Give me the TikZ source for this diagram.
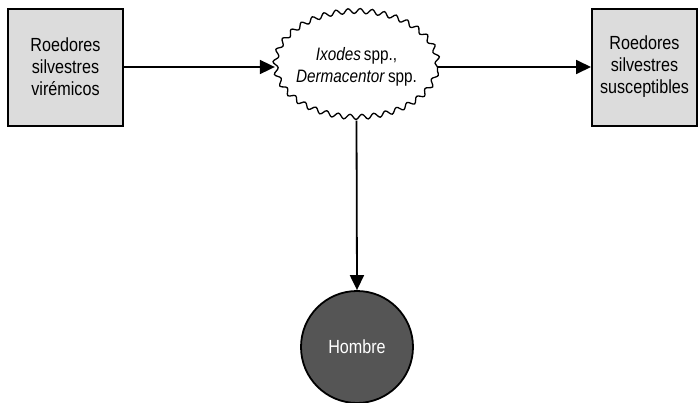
\documentclass[tikz,border=0pt]{standalone}
\usepackage{fontspec}
\setmainfont[FakeStretch=0.85]{Liberation Sans}
\usetikzlibrary{arrows.meta,shapes.geometric,decorations.pathmorphing}
\definecolor{boxgray}{RGB}{220,220,220}
\definecolor{mangray}{RGB}{85,85,85}
\tikzset{
    hostbox/.style={draw,line width=2pt,fill=boxgray,minimum width=115pt,minimum height=117pt,align=center,font=\fontsize{19}{22}\selectfont},
    vector/.style={draw,ellipse,line width=1.3pt,fill=white,minimum width=162pt,minimum height=106pt,inner sep=0pt,
        decorate,decoration={snake,segment length=12pt,amplitude=2.5pt}},
    flow/.style={line width=1.8pt,-{Triangle[length=15pt,width=14pt]}}
}
\begin{document}
\begin{tikzpicture}[x=1pt,y=-1pt]
        \useasboundingbox (0,0) rectangle (698,402);

        \node[hostbox] (src) at (65.5,67) {Roedores\\silvestres\\virémicos};
        \node[hostbox,minimum width=105pt] (dst) at (644.5,67) {Roedores\\silvestres\\susceptibles};
        \node[vector] (tick) at (356.5,67) {};
        \node[align=center,font=\fontsize{18}{22}\selectfont] (ticktext) at (tick.center) {\textit{Ixodes}\,spp.,\\\textit{Dermacentor}\,spp.};
        \node[circle,draw,line width=1.8pt,fill=mangray,minimum size=112pt,text=white,font=\fontsize{19}{22}\selectfont] (man) at (357,347) {Hombre};

        \draw[flow] (src.east) -- (tick.west);
        \draw[flow] (tick.east) -- (dst.west);
        \draw[flow] (tick.south) -- (man.north);
    \end{tikzpicture}
\end{document}
